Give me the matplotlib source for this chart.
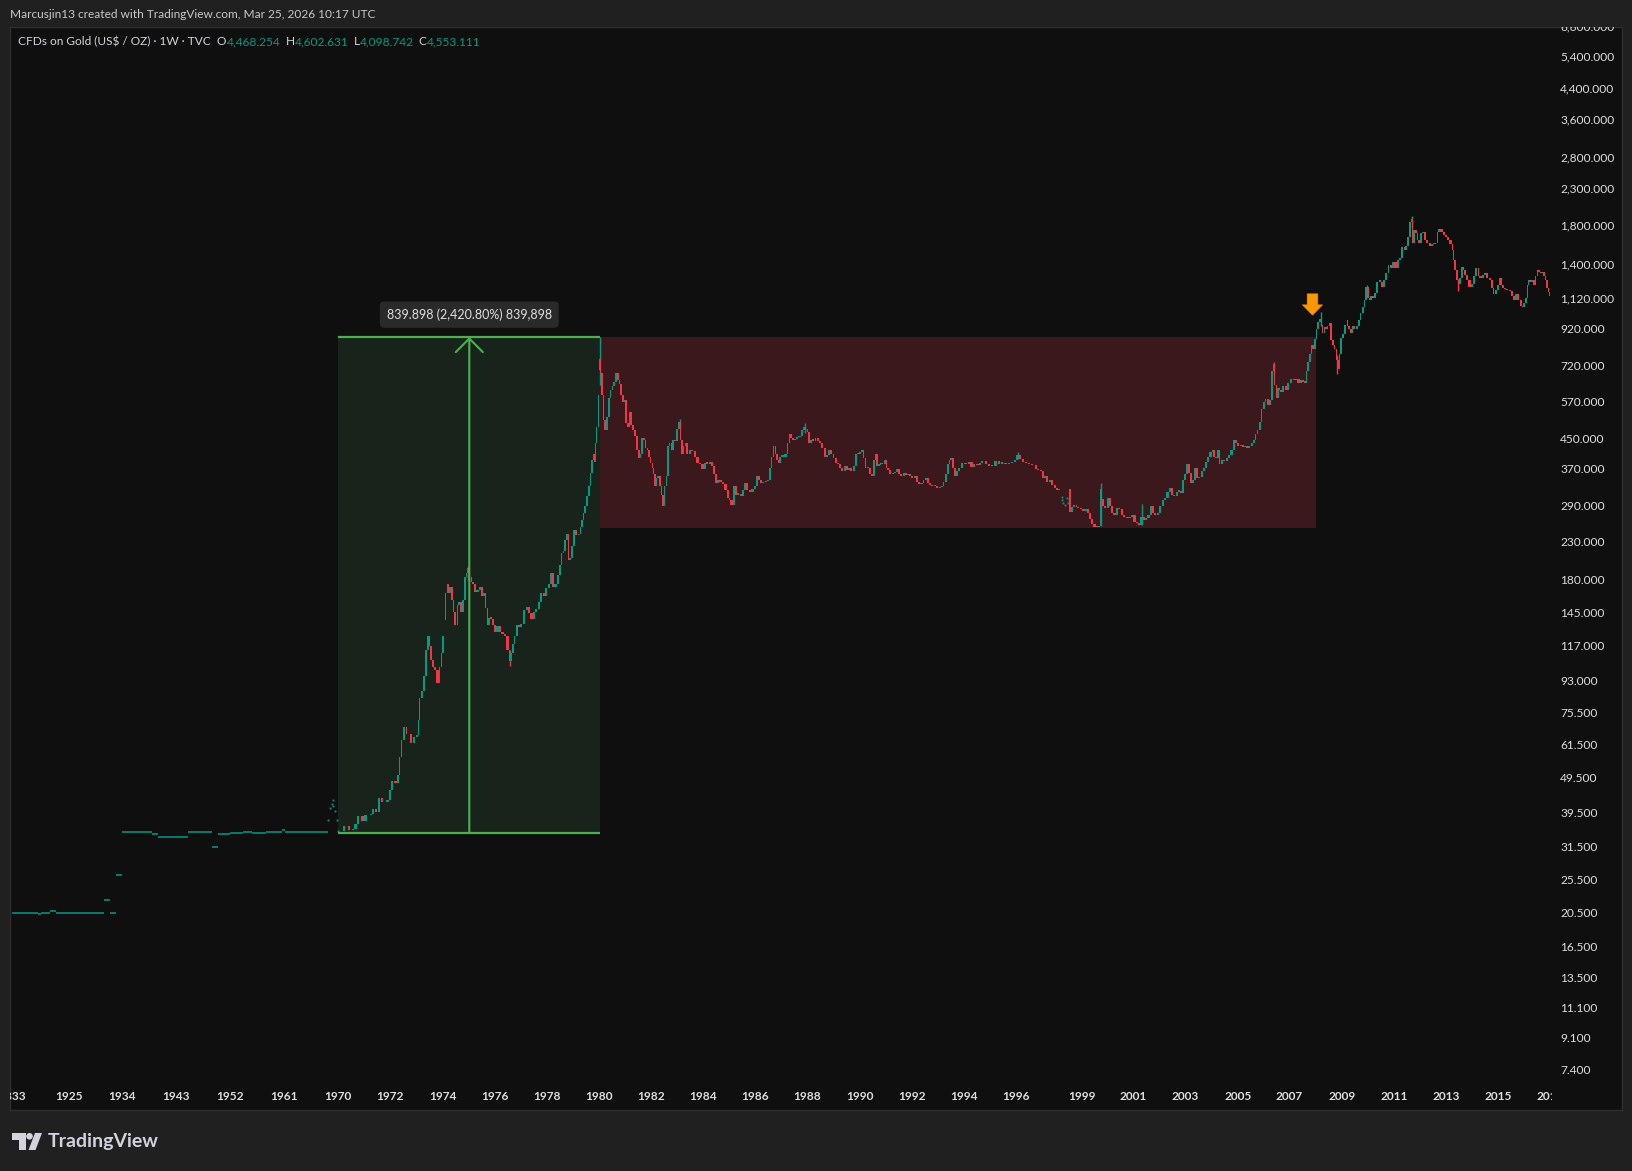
import numpy as np
import matplotlib.pyplot as plt
from matplotlib.path import Path
from matplotlib.patches import Polygon, Circle, Rectangle
from matplotlib.transforms import Affine2D, blended_transform_factory

plt.rcParams['font.family'] = ['Lato', 'DejaVu Sans']

W, H = 1633, 1171

# ---------------- data ----------------
# before 1970 the feed is just a few flat prints: from-year, to-year, price
flat_from = [1832.2, 1875.4, 1879.3, 1894.6, 1904.5, 1931.0, 1932.0, 1933.0, 1934.0,
             1939.0, 1940.0, 1945.0, 1949.0, 1950.0, 1952.0, 1954.2, 1955.7, 1958.0,
             1960.7, 1961.2]
flat_to = [1875.4, 1879.3, 1894.6, 1904.5, 1931.0, 1932.0, 1933.0, 1934.0, 1939.0,
           1940.0, 1944.9, 1948.9, 1950.0, 1952.0, 1954.2, 1955.7, 1958.0, 1960.7,
           1961.2, 1968.4]
flat_price = [20.67, 20.45, 20.67, 20.85, 20.67, 22.5, 20.67, 26.4, 34.9,
              34.6, 33.8, 34.9, 31.6, 34.6, 34.7, 34.9, 34.7, 34.95,
              35.3, 34.95]

# scattered prints around 1968-69 and 1998
dot_years = [1968.37, 1968.67, 1968.95, 1969.10, 1969.24, 1969.52, 1969.80, 1969.97,
             1998.09, 1998.12, 1998.17, 1998.24, 1998.35, 1998.40, 1998.44]
dot_prices = [37.8, 40.8, 42.0, 43.0, 41.5, 40.0, 37.8, 35.2,
              309, 304, 298, 293, 307, 298, 303]

# weekly closes (thinned)
years = [
    1970.02, 1970.27, 1970.46, 1970.62, 1970.72, 1970.82, 1970.98, 1971.10, 1971.30, 1971.39,
    1971.49, 1971.62, 1971.74, 1971.94, 1972.03, 1972.10, 1972.25, 1972.35, 1972.39, 1972.45,
    1972.58, 1972.66, 1972.83, 1972.96, 1973.05, 1973.11, 1973.15, 1973.25, 1973.34, 1973.41,
    1973.47, 1973.53, 1973.60, 1973.66, 1973.76, 1973.85, 1973.92, 1973.98, 1974.04, 1974.07,
    1974.15, 1974.20, 1974.26, 1974.33, 1974.40, 1974.45, 1974.53, 1974.59, 1974.68, 1974.75,
    1974.81, 1974.88, 1974.94, 1974.98, 1975.07, 1975.13, 1975.19, 1975.28, 1975.39, 1975.48,
    1975.55, 1975.64, 1975.68, 1975.73, 1975.81, 1975.90, 1975.96, 1976.05, 1976.15, 1976.24,
    1976.34, 1976.44, 1976.54, 1976.60, 1976.67, 1976.73, 1976.80, 1976.89, 1976.96, 1977.05,
    1977.18, 1977.27, 1977.37, 1977.46, 1977.56, 1977.65, 1977.75, 1977.84, 1977.94, 1978.03,
    1978.14, 1978.20, 1978.29, 1978.39, 1978.47, 1978.55, 1978.61, 1978.68, 1978.75, 1978.82,
    1978.87, 1978.93, 1979.00, 1979.09, 1979.18, 1979.26, 1979.31, 1979.38, 1979.44, 1979.52,
    1979.57, 1979.65, 1979.70, 1979.76, 1979.80, 1979.87, 1979.90, 1979.95, 1979.99, 1980.02,
    1980.05, 1980.08, 1980.16, 1980.21, 1980.26, 1980.34, 1980.41, 1980.48, 1980.54, 1980.63,
    1980.69, 1980.76, 1980.82, 1980.88, 1980.95, 1981.01, 1981.08, 1981.14, 1981.20, 1981.27,
    1981.33, 1981.42, 1981.50, 1981.56, 1981.61, 1981.69, 1981.75, 1981.82, 1981.88, 1981.95,
    1982.01, 1982.06, 1982.12, 1982.18, 1982.23, 1982.29, 1982.36, 1982.42, 1982.48, 1982.55,
    1982.61, 1982.67, 1982.74, 1982.80, 1982.87, 1982.94, 1983.02, 1983.10, 1983.15, 1983.21,
    1983.28, 1983.35, 1983.44, 1983.53, 1983.63, 1983.74, 1983.83, 1983.92, 1984.02, 1984.11,
    1984.21, 1984.30, 1984.38, 1984.46, 1984.53, 1984.62, 1984.72, 1984.81, 1984.91, 1984.98,
    1985.04, 1985.14, 1985.22, 1985.30, 1985.39, 1985.49, 1985.58, 1985.65, 1985.74, 1985.83,
    1985.94, 1986.03, 1986.09, 1986.17, 1986.26, 1986.34, 1986.45, 1986.54, 1986.60, 1986.66,
    1986.74, 1986.80, 1986.87, 1986.93, 1987.00, 1987.06, 1987.12, 1987.21, 1987.28, 1987.34,
    1987.41, 1987.50, 1987.57, 1987.66, 1987.75, 1987.83, 1987.92, 1987.98, 1988.05, 1988.11,
    1988.20, 1988.28, 1988.36, 1988.45, 1988.53, 1988.62, 1988.71, 1988.79, 1988.88, 1988.97,
    1989.04, 1989.13, 1989.22, 1989.30, 1989.39, 1989.48, 1989.55, 1989.64, 1989.73, 1989.83,
    1989.90, 1989.98, 1990.05, 1990.13, 1990.19, 1990.26, 1990.35, 1990.44, 1990.51, 1990.58,
    1990.64, 1990.70, 1990.77, 1990.83, 1990.92, 1991.00, 1991.05, 1991.13, 1991.22, 1991.31,
    1991.40, 1991.47, 1991.56, 1991.65, 1991.73, 1991.82, 1991.91, 1991.98, 1992.07, 1992.16,
    1992.24, 1992.33, 1992.42, 1992.49, 1992.58, 1992.67, 1992.75, 1992.84, 1992.93, 1993.03,
    1993.12, 1993.20, 1993.26, 1993.35, 1993.42, 1993.48, 1993.54, 1993.63, 1993.71, 1993.77,
    1993.86, 1993.99, 1994.12, 1994.25, 1994.35, 1994.44, 1994.57, 1994.67, 1994.76, 1994.89,
    1995.01, 1995.14, 1995.27, 1995.40, 1995.52, 1995.65, 1995.78, 1995.91, 1996.00, 1996.12,
    1996.23, 1996.38, 1996.50, 1996.65, 1996.80, 1996.96, 1997.08, 1997.18, 1997.29, 1997.38,
    1997.49, 1997.59, 1997.71, 1997.82, 1997.91, 1998.02, 1998.50, 1998.62, 1998.72, 1998.80,
    1998.90, 1999.00, 1999.10, 1999.20, 1999.28, 1999.36, 1999.45, 1999.54, 1999.62, 1999.70,
    1999.76, 1999.80, 1999.86, 1999.95, 2000.07, 2000.13, 2000.22, 2000.32, 2000.41, 2000.50,
    2000.60, 2000.69, 2000.80, 2000.90, 2000.99, 2001.09, 2001.18, 2001.27, 2001.35, 2001.44,
    2001.53, 2001.63, 2001.72, 2001.80, 2001.89, 2001.98, 2002.08, 2002.17, 2002.27, 2002.36,
    2002.44, 2002.52, 2002.61, 2002.72, 2002.81, 2002.89, 2002.95, 2003.04, 2003.10, 2003.17,
    2003.25, 2003.32, 2003.40, 2003.49, 2003.58, 2003.66, 2003.74, 2003.83, 2003.91, 2004.00,
    2004.06, 2004.13, 2004.21, 2004.29, 2004.34, 2004.44, 2004.53, 2004.61, 2004.70, 2004.80,
    2004.89, 2004.98, 2005.06, 2005.15, 2005.24, 2005.31, 2005.40, 2005.49, 2005.57, 2005.66,
    2005.72, 2005.80, 2005.88, 2005.95, 2006.04, 2006.10, 2006.21, 2006.30, 2006.36, 2006.40,
    2006.46, 2006.52, 2006.58, 2006.62, 2006.72, 2006.81, 2006.90, 2007.00, 2007.11, 2007.20,
    2007.29, 2007.39, 2007.48, 2007.55, 2007.62, 2007.67, 2007.73, 2007.80, 2007.86, 2007.93,
    2008.00, 2008.05, 2008.12, 2008.18, 2008.22, 2008.28, 2008.35, 2008.41, 2008.47, 2008.54,
    2008.60, 2008.67, 2008.73, 2008.80, 2008.86, 2008.90, 2008.99, 2009.05, 2009.12, 2009.15,
    2009.22, 2009.28, 2009.35, 2009.41, 2009.50, 2009.59, 2009.67, 2009.73, 2009.82, 2009.88,
    2009.95, 2010.01, 2010.08, 2010.14, 2010.23, 2010.30, 2010.39, 2010.48, 2010.56, 2010.65,
    2010.74, 2010.82, 2010.91, 2011.00, 2011.10, 2011.19, 2011.27, 2011.36, 2011.42, 2011.48,
    2011.57, 2011.64, 2011.69, 2011.74, 2011.80, 2011.87, 2011.93, 2011.99, 2012.06, 2012.15,
    2012.23, 2012.32, 2012.41, 2012.48, 2012.56, 2012.63, 2012.70, 2012.76, 2012.87, 2012.96,
    2013.04, 2013.12, 2013.21, 2013.28, 2013.31, 2013.38, 2013.44, 2013.50, 2013.56, 2013.63,
    2013.70, 2013.76, 2013.85, 2013.94, 2014.02, 2014.11, 2014.20, 2014.27, 2014.36, 2014.45,
    2014.53, 2014.62, 2014.71, 2014.79, 2014.85, 2014.94, 2015.03, 2015.07, 2015.13, 2015.22,
    2015.30, 2015.39, 2015.48, 2015.55, 2015.64, 2015.73, 2015.81, 2015.90, 2015.96, 2016.03,
    2016.09, 2016.13, 2016.19, 2016.26, 2016.32, 2016.41, 2016.47, 2016.54, 2016.60, 2016.67,
    2016.73, 2016.79, 2016.83, 2016.90, 2016.95, 2016.99,
]
closes = [
    35.1, 36.3, 35.4, 35.7, 36.7, 38.9, 37.5, 39.0, 39.4, 40.7,
    39.8, 43.5, 42.6, 43.0, 45.9, 48.6, 48.2, 50.6, 57.0, 63.6,
    69.4, 66.1, 62.4, 64.7, 65.7, 72.4, 83.4, 87.6, 96.3, 114,
    124.8, 117, 107, 102.5, 100.3, 92, 102.5, 112, 124.8, 138.8,
    165, 176, 165, 172, 158, 146.4, 134.7, 153, 156, 146,
    158, 184, 188, 195, 184, 178, 176, 167, 168.8, 172,
    162.4, 166, 150, 134.7, 141, 140, 134.7, 128.7, 133.5, 128.7,
    127, 124.8, 114, 106, 112, 119, 124.8, 134.7, 133, 135,
    148.2, 150.6, 145, 140, 146, 149.5, 156, 165, 162, 171,
    176, 188, 172, 176, 186, 199, 214, 218, 233.6, 243,
    205, 208, 224, 249, 241, 243, 254, 266, 279, 292,
    311, 331, 361, 393, 410, 387, 438, 487, 601, 706,
    760, 691, 601, 510, 478, 521, 587, 620, 636, 652,
    691, 661, 645, 601, 574, 581, 499, 487, 538, 493,
    478, 460, 419.5, 397, 410, 455, 448, 425, 419, 402,
    386, 372, 358, 331, 350, 354, 331, 314, 291, 331,
    354, 431, 438, 419, 448, 445, 482, 505, 448, 410,
    431, 438, 410, 419, 416, 402, 386, 383, 371, 386,
    384, 388, 379, 358, 338, 345, 340, 336, 323, 308,
    303, 293, 331, 314, 316, 311, 323, 338, 323, 320,
    326, 331, 354, 345, 338, 341, 343, 345, 372, 402,
    431, 410, 393, 386, 402, 406, 402, 410, 438, 466,
    455, 448, 452, 456, 461, 478, 487, 482, 471, 438,
    448, 446, 455, 444, 438, 425, 402, 406, 419, 410,
    397, 386, 383, 372, 365, 379, 368, 372, 365, 379,
    410, 408, 413, 419, 397, 372, 374, 358, 354, 393,
    410, 379, 381, 386, 383, 393, 372, 368, 358, 361,
    363, 371, 358, 354, 361, 356, 358, 354, 350, 354,
    341, 336, 338, 345, 350, 338, 334, 331, 333, 327,
    329, 331, 341, 358, 383, 393, 397, 372, 354, 365,
    372, 386, 383, 387, 375, 383, 381, 385, 391, 383,
    379, 377, 390, 384, 386, 383, 385, 387, 393, 406,
    395, 389, 386, 382, 380, 371, 368, 365, 350, 354,
    341, 345, 335, 327, 323, 325, 280, 290, 293, 290,
    288, 286, 282, 286, 278, 268, 260, 255, 254, 256,
    325, 305, 292, 288, 308, 292, 279, 275, 288, 286,
    275, 272, 270, 272, 275, 263, 261, 258, 272, 266,
    270, 275, 292, 279, 275, 279, 292, 303, 307, 320,
    327, 314, 311, 320, 322, 318, 345, 358, 383, 361,
    338, 345, 372, 350, 352, 365, 372, 388, 402, 413,
    419, 402, 397, 419, 383, 393, 391, 397, 406, 419,
    448, 438, 431, 434, 428, 432, 425, 431, 438, 448,
    466, 478, 505, 547, 574, 585, 563, 581, 700, 735,
    640, 590, 630, 620, 613, 636, 620, 650, 667, 661,
    665, 650, 661, 652, 650, 700, 745, 782, 833, 812,
    866, 923, 967, 985, 948, 897, 933, 924, 940, 961,
    858, 833, 812, 753, 711, 782, 867, 890, 945, 977,
    940, 924, 897, 940, 924, 940, 977, 1020, 1065, 1113,
    1215, 1125, 1113, 1140, 1125, 1165, 1254, 1255, 1215, 1265,
    1327, 1394, 1374, 1425, 1374, 1443, 1461, 1573, 1541, 1579,
    1680, 1845, 1890, 1617, 1755, 1720, 1645, 1617, 1720, 1738,
    1645, 1617, 1579, 1600, 1605, 1617, 1738, 1764, 1738, 1704,
    1680, 1645, 1600, 1541, 1444, 1350, 1268, 1238, 1284, 1380,
    1353, 1310, 1268, 1215, 1238, 1300, 1370, 1300, 1284, 1310,
    1325, 1284, 1265, 1200, 1157, 1188, 1230, 1284, 1230, 1200,
    1198, 1188, 1180, 1140, 1113, 1157, 1113, 1070, 1065, 1090,
    1125, 1230, 1265, 1248, 1268, 1230, 1300, 1350, 1340, 1325,
    1340, 1300, 1265, 1200, 1170, 1140,
]

# the long wicks that stand out
wick_years = [1974.98, 1976.60, 1980.05, 1983.10, 1987.92, 1996.12, 1999.76, 2001.35,
              2006.40, 2008.18, 2008.80, 2009.95, 2011.69, 2013.44]
wick_lows = [180, 103, 640, 480, 470, 395, 256, 258, 690, 940, 690, 1150, 1780, 1180]
wick_highs = [197, 114, 874.6, 512, 500, 415, 338, 296, 745, 1030, 780, 1226, 1920, 1280]

# measured move 1970 -> 1980 peak, and the range until the 2008 breakout
move_from, move_to = 1970.0, 1980.05
move_low, move_high = 34.69, 874.59
range_to, range_low = 2008.02, 253.0
retest_year, retest_price = 2007.87, 1085
move_label = '839.898 (2,420.80%) 839,898'

price_ticks = [6600, 5400, 4400, 3600, 2800, 2300, 1800, 1400, 1120, 920, 720, 570, 450,
               370, 290, 230, 180, 145, 117, 93, 75.5, 61.5, 49.5, 39.5, 31.5, 25.5,
               20.5, 16.5, 13.5, 11.1, 9.1, 7.4]
year_ticks = [1833, 1925, 1934, 1943, 1952, 1961, 1970, 1972, 1974, 1976, 1978, 1980,
              1982, 1984, 1986, 1988, 1990, 1992, 1994, 1996, 1999, 2001, 2003, 2005,
              2007, 2009, 2011, 2013, 2015, 2017]

# ---------------- time scale ----------------
# TradingView spaces bars by index, so years sit unevenly: pixel column of each label
tick_px = [12.5, 68.5, 121.9, 176.3, 230.1, 284.0, 337.9, 390.2, 442.5, 494.8, 546.5,
           598.8, 651.2, 703.0, 755.2, 807.0, 859.5, 911.6, 963.7, 1015.7, 1081.6,
           1133.2, 1185.2, 1237.8, 1289.4, 1342.5, 1394.0, 1446.1, 1498.2, 1550.3]
anchor_yr = np.array([1800] + year_ticks + [2030], dtype=float)
anchor_px = np.array([12.5 - 33 * 56 / 92] + tick_px + [1550.3 + 13 * 26.04])


def fwd(x):
    return np.interp(x, anchor_yr, anchor_px)


def inv(p):
    return np.interp(p, anchor_px, anchor_yr)


UP, DOWN = '#089981', '#f23645'
TXT = '#d1d4dc'

fig = plt.figure(figsize=(W / 100, H / 100), dpi=100, facecolor='#202020')
# chart pane: x 10..1622, y 27..1110 (pixels from top)
ax = fig.add_axes([10 / W, (H - 1110) / H, 1612 / W, 1083 / H], facecolor='#0f0f0f')
ax.set_xscale('function', functions=(fwd, inv))
ax.set_yscale('log')
ax.set_xlim(inv(10), inv(1622))
# label 7.4 sits at y=1070.6 px, 5400 at y=57.3 px
dpp = (np.log10(5400) - np.log10(7.4)) / (1070.6 - 57.3)
ax.set_ylim(10 ** (np.log10(7.4) - (1110 - 1070.6) * dpp),
            10 ** (np.log10(5400) + (57.3 - 27) * dpp))
ax.set_xticks([])
ax.set_yticks([])
ax.minorticks_off()
ax.tick_params(which='both', length=0, labelleft=False, labelbottom=False)
for s in ax.spines.values():
    s.set_color('#2e2e2e')
    s.set_linewidth(1)

# boxes
ax.fill_between([move_from, move_to], move_low, move_high, color='#18241b', lw=0, zorder=1)
ax.fill_between([move_to, range_to], range_low, move_high, color='#3a181b', lw=0, zorder=1)
ax.hlines([move_low, move_high], move_from, move_to, color='#4caf50', lw=1.6, zorder=4)
mid = (move_from + move_to) / 2
ax.annotate('', xy=(mid, move_high), xytext=(mid, move_low),
            arrowprops=dict(arrowstyle='->,head_length=0.75,head_width=0.75',
                            color='#4caf50', lw=1.5, shrinkA=0, shrinkB=0,
                            mutation_scale=13), zorder=4)
ax.annotate(move_label, xy=(mid, move_high), xytext=(0, 16.2), textcoords='offset points',
            ha='center', va='center', fontsize=9, color='#e0e0e0', zorder=6,
            bbox=dict(boxstyle='round,pad=0.55,rounding_size=0.35', fc='#2a2a2a', ec='none'))

# early flat prints
ax.hlines(flat_price, flat_from, flat_to, color=UP, lw=1.1, zorder=3)
ax.plot(dot_years, dot_prices, ls='none', marker='s', ms=1.3, mew=0, color=UP, zorder=3)

# candles: open = previous close
yr = np.array(years)
c = np.array(closes, dtype=float)
o = np.r_[flat_price[-1], c[:-1]]
gap = np.minimum(np.diff(np.r_[yr[0] - 0.05, yr]), 0.1)
col = np.where(c >= o, UP, DOWN)
bot = np.minimum(o, c)
hgt = np.maximum(np.abs(c - o), bot * 0.008)
idx = np.clip(np.searchsorted(yr, wick_years), 0, len(yr) - 1)
ax.vlines(wick_years, wick_lows, wick_highs, colors=col[idx], lw=1.0, zorder=3)
ax.bar(yr, hgt, bottom=bot, width=-0.9 * gap, align='edge', color=col, lw=0, zorder=3)

# breakout marker
arrow = Path([(-0.5, 1), (0.5, 1), (0.5, -0.03), (0.95, -0.03), (0, -1),
              (-0.95, -0.03), (-0.5, -0.03), (-0.5, 1)],
             [Path.MOVETO] + [Path.LINETO] * 6 + [Path.CLOSEPOLY])
ax.plot([retest_year], [retest_price], marker=arrow, ms=15.4, color='#ff9800',
        mec='#e08600', mew=0.4, ls='none', zorder=6)

# price scale labels (right) and time scale labels (bottom)
ytr = blended_transform_factory(ax.transAxes, ax.transData)
for p in price_ticks:
    ax.text((1560 - 10) / 1612, p, f'{p:,.3f}', transform=ytr, ha='left', va='center',
            fontsize=8.6, color='#dedede', clip_on=True)
xtr = blended_transform_factory(ax.transData, ax.transAxes)
time_area = Rectangle((10 / W, 0), (1552 - 10) / W, 1, transform=fig.transFigure)
for y in year_ticks:
    t = ax.text(y, (1110 - 1096) / 1083, str(y), transform=xtr, ha='center', va='center',
                fontsize=8.6, color='#dedede', fontweight='bold', clip_on=True)
    t.set_clip_path(time_area)

# header
def ftxt(x, y, s, **kw):
    return fig.text(x / W, 1 - y / H, s, va='center', ha='left', parse_math=False, **kw)

ftxt(10, 15, 'Marcusjin13 created with TradingView.com, Mar 25, 2026 10:17 UTC',
     fontsize=8.6, color='#c8c8c8')
ftxt(17.7, 41.7, 'CFDs on Gold (US$ / OZ) · 1W · TVC', fontsize=8.6, color=TXT)
renderer = fig.canvas.get_renderer()
for x0, key, val in [(217, 'O', '4,468.254'), (285.7, 'H', '4,602.631'),
                     (353.6, 'L', '4,098.742'), (418.6, 'C', '4,553.111')]:
    t = ftxt(x0, 41.7, key, fontsize=8.6, color=TXT)
    x1 = t.get_window_extent(renderer).x1
    ftxt(x1, 41.7, val, fontsize=8.6, color=UP)

# TradingView logo + name
px = Affine2D().scale(1 / W, -1 / H).translate(0, 1) + fig.transFigure
fig.patches.append(Polygon([(12, 1133), (26, 1133), (26, 1150), (19.5, 1150), (19.5, 1139.5),
                            (12, 1139.5)], closed=True, fc='#d1d4dc', ec='none', transform=px))
fig.patches.append(Circle((29.5, 1136.3), 3.3, fc='#d1d4dc', ec='none', transform=px))
fig.patches.append(Polygon([(35, 1133), (42, 1133), (35.5, 1150), (28.5, 1150)], closed=True,
                           fc='#d1d4dc', ec='none', transform=px))
ftxt(48, 1141, 'TradingView', fontsize=14, color='#d1d4dc', fontweight='bold')

fig.savefig('out.png', dpi=100, facecolor=fig.get_facecolor())
